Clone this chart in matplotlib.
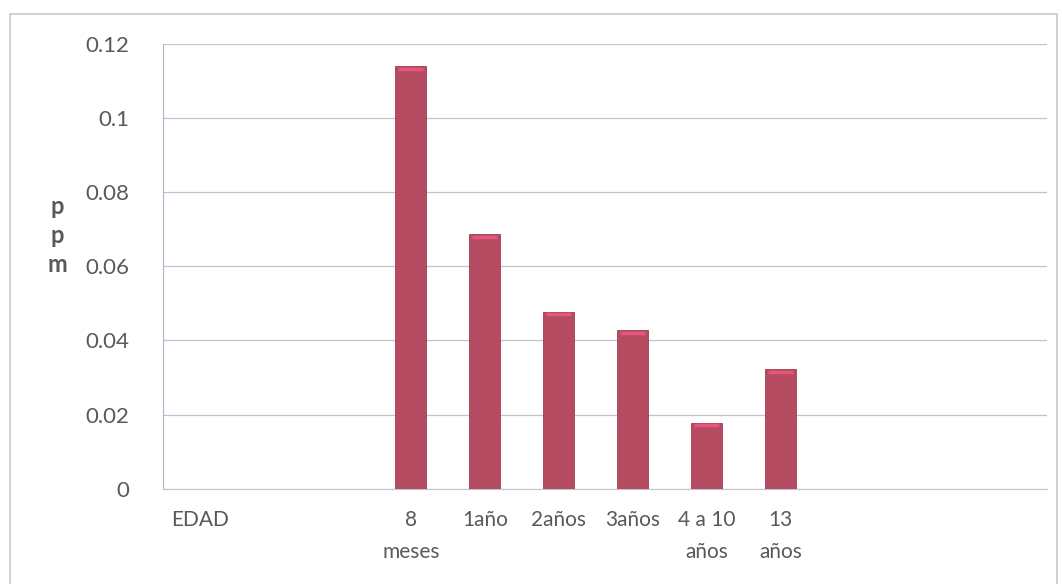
import matplotlib.pyplot as plt
from matplotlib.patches import Rectangle

# ppm by age group
categories = ['8\nmeses', '1año', '2años', '3años', '4 a 10\naños', '13\naños']
ppm = [0.114, 0.0687, 0.0478, 0.0428, 0.0178, 0.0322]
axis_title = 'EDAD'
y_ticks = [0, 0.02, 0.04, 0.06, 0.08, 0.1, 0.12]
y_tick_labels = ['0', '0.02', '0.04', '0.06', '0.08', '0.1', '0.12']

text_color = '#595959'
bar_color = '#b64c62'
grid_color = '#c4c0d4'

plt.rcParams['font.family'] = ['Lato', 'DejaVu Sans']

fig = plt.figure(figsize=(10.62, 5.84), dpi=100)
ax = fig.add_axes([0.1535, 0.163, 0.8325, 0.762])

# empty slots before the first age group, as in the original sheet
offset = 3
xs = [offset + i for i in range(len(ppm))]
ax.bar(xs, ppm, width=0.42, color=bar_color, edgecolor='#9c3c50',
       linewidth=0.6, zorder=3)
# light highlight along the top of each bar
for x, v in zip(xs, ppm):
    ax.plot([x - 0.17, x + 0.17], [v - 0.0007, v - 0.0007],
            color='#e8557a', lw=2.5, solid_capstyle='butt', zorder=4)

ax.set_xlim(-0.35, 11.6)
ax.set_ylim(0, 0.12)
ax.set_yticks(y_ticks)
ax.set_yticklabels(y_tick_labels, fontsize=16)
ax.set_xticks([0.15] + xs)
ax.set_xticklabels([axis_title] + categories, va='top', ha='center',
                   linespacing=1.75, fontsize=15)

ax.tick_params(axis='both', length=0, colors=text_color)
ax.tick_params(axis='y', pad=24)
ax.tick_params(axis='x', pad=15)

ax.yaxis.grid(True, color=grid_color, linewidth=0.9, zorder=0)
ax.set_axisbelow(True)
for side in ['top', 'right']:
    ax.spines[side].set_visible(False)
ax.spines['left'].set_color('#b5b0c4')
ax.spines['bottom'].set_color(grid_color)

fig.text(0.054, 0.597, 'p\np\nm', color=text_color, fontsize=17,
         fontweight='bold', ha='center', va='center', linespacing=1.3)

# outer chart frame
fig.patches.append(Rectangle((10 / 1062, -0.02), 1047 / 1062, 0.996,
                             transform=fig.transFigure, fill=False,
                             edgecolor='#c9c5d3', linewidth=1.2))

fig.savefig('out.png', dpi=100, facecolor='white')
